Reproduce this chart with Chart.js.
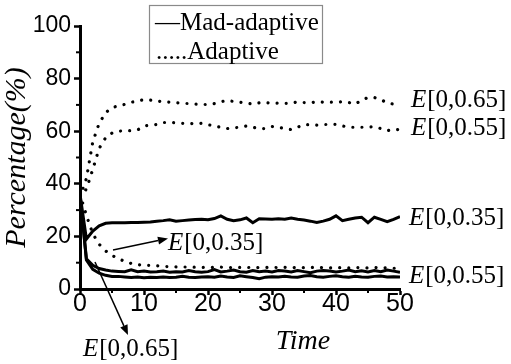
<!DOCTYPE html>
<html><head><meta charset="utf-8">
<script src="https://cdn.jsdelivr.net/npm/chart.js@4"></script>
<style>html,body{margin:0;padding:0;background:#fff}#wrap{width:511px;height:364px}</style>
</head><body><div id="wrap"><canvas id="c" width="511" height="364"></canvas></div>
<script>
const times=[0,1,2,3,4,5,6,7,8,9,10,11,12,13,14,15,16,17,18,19,20,21,22,23,24,25,26,27,28,29,30,31,32,33,34,35,36,37,38,39,40,41,42,43,44,45,46,47,48,49,50];
// Mad-adaptive (solid)
const mad35=[36,19,22,24,25,25.2,25.2,25.2,25.3,25.3,25.4,25.5,25.8,26,26.3,25.8,26,26.2,26.4,26.5,26.3,26.8,27.8,26.5,26,26.3,27,25.2,26.7,26.6,26.5,26.7,26.5,27,26.5,26.2,25.8,25.3,25.8,26.5,27.8,26,26.5,27,27.3,25.2,27.3,26.5,25.6,26.5,27.5];
const mad55=[36,11.5,9,7.8,7.2,6.8,6.7,6.6,7.3,6.6,6.8,6.5,6.6,6.8,6.4,6.6,6.5,7,6.6,6.4,6.6,7.4,6.5,6.8,7.2,6.6,6.4,7,6.6,6.8,6.5,7,6.8,6.5,7,6.6,6.2,6.8,7,6.8,6.5,6.8,7.2,6.6,6.9,6.5,7,6.6,7.2,6.8,6.4];
const mad65=[36,11,7.5,6,5.2,4.8,4.8,4.6,4.4,4.6,4.3,4.5,4.4,4.6,4.4,4.5,4.8,4.5,4.4,4.6,4.7,4.5,4.9,4.6,4.4,5.0,4.7,4.4,3.9,4.5,4.7,4.6,4.8,4.6,4.5,4.9,5.1,4.7,4.5,4.8,5.0,4.7,4.5,4.8,4.6,4.5,4.8,4.9,4.6,4.7,4.6];
// Adaptive (dotted)
const ad35=[36,28,21,17,14.5,12.8,11.5,10.5,9.7,9.2,9,9,8.8,8.6,8.5,8.4,8.4,8.3,8.3,8.2,8.3,8.2,8.3,8.1,8.2,8.2,8.1,8.3,8.1,8.2,8.3,8.1,8.2,8,8.2,8.1,8.2,8.3,8.1,8,8.2,8.1,8,8.2,8.1,8,8.2,7.9,8.1,7.9,7.8];
const ad55=[35,38,45.5,53.5,57.5,59.3,60,60.2,60.2,60.5,62,62.3,62.5,63.3,63.3,63.2,63,63,62.8,63,62.5,62,61.5,61,61.3,61.5,62,61.5,61,61,61.8,61.5,61,60.6,61.5,62.5,62.5,62.3,62.5,62.6,62.6,62,61.5,61.5,61.5,61.6,61.7,61,60.2,60.7,60.5];
const ad65=[35,42,56,63,67,69,69.6,70.2,71,71.5,72,71.8,71.5,71.2,71,70.8,70.6,70.5,70.3,70.2,70.1,70.5,71.2,71.7,71.3,71,70.7,70.3,70.8,70.9,70.6,70.7,70.6,70.6,71.2,70.9,70.8,71.2,71,71,71.1,71.2,70.9,70.3,71.8,72.8,72.8,72,70.8,70.3,70.8];
const xTicks=[0,10,20,30,40,50];
const yTicks=[0,20,40,60,80,100];
const xMinor=[5,15,25,35,45];
const yMinor=[10,30,50,70,90];
const legendItems=['\u2014Mad-adaptive','.....Adaptive'];

const SERIF='"Liberation Serif", "Times New Roman", serif';
const SANS='"Liberation Sans", Arial, sans-serif';
function pts(arr){return times.map((t,i)=>({x:t,y:arr[i]}));}
function solid(arr){return {data:pts(arr),borderColor:'#000',borderWidth:3,pointRadius:0,tension:0,fill:false};}
function dotted(arr){return {data:pts(arr),borderColor:'#000',borderWidth:3.2,borderDash:[0.01,9.1],borderCapStyle:'round',pointRadius:0,tension:0,fill:false};}

function drawLabel(ctx,x,y,rest,size){
  ctx.save();
  ctx.fillStyle='#000';ctx.textBaseline='alphabetic';ctx.textAlign='left';
  ctx.font='italic '+size+'px '+SERIF;
  ctx.fillText('E',x,y);
  const w=ctx.measureText('E').width;
  ctx.font=size+'px '+SERIF;
  ctx.fillText(rest,x+w+1,y);
  ctx.restore();
}
function arrow(ctx,x1,y1,x2,y2){
  ctx.save();
  ctx.strokeStyle='#000';ctx.fillStyle='#000';ctx.lineWidth=1.5;
  const a=Math.atan2(y2-y1,x2-x1),L=10,W=4;
  const bx=x2-L*Math.cos(a),by=y2-L*Math.sin(a);
  ctx.beginPath();ctx.moveTo(x1,y1);ctx.lineTo(bx,by);ctx.stroke();
  ctx.beginPath();ctx.moveTo(x2,y2);
  ctx.lineTo(bx+W*Math.sin(a),by-W*Math.cos(a));
  ctx.lineTo(bx-W*Math.sin(a),by+W*Math.cos(a));
  ctx.closePath();ctx.fill();
  ctx.restore();
}

const overlay={id:'overlay',afterDraw(chart){
  const ctx=chart.ctx,xs=chart.scales.x,ys=chart.scales.y;
  const x0=xs.getPixelForValue(0),y0=ys.getPixelForValue(0);
  ctx.save();
  ctx.strokeStyle='#000';ctx.lineWidth=2;
  yMinor.forEach(v=>{const p=ys.getPixelForValue(v);ctx.beginPath();ctx.moveTo(x0-4,p);ctx.lineTo(x0,p);ctx.stroke();});
  xMinor.forEach(v=>{const p=xs.getPixelForValue(v);ctx.beginPath();ctx.moveTo(p,y0);ctx.lineTo(p,y0+4);ctx.stroke();});
  // legend box
  ctx.strokeStyle='#8a8a8a';ctx.lineWidth=1.2;
  ctx.strokeRect(149.5,5.5,173,58);
  ctx.fillStyle='#000';ctx.font='25px '+SERIF;ctx.textBaseline='alphabetic';ctx.textAlign='left';
  ctx.fillText(legendItems[0],155,30);
  ctx.fillText(legendItems[1],156,59);
  // x title
  ctx.font='italic 28px '+SERIF;ctx.textAlign='center';
  ctx.fillText('Time',303,349);
  ctx.restore();
  const xr=xs.getPixelForValue(50)+11;
  drawLabel(ctx,xr,107,'[0,0.65]',25);
  drawLabel(ctx,xr,135,'[0,0.55]',25);
  drawLabel(ctx,xr-2,225,'[0,0.35]',25);
  drawLabel(ctx,xr-2,283,'[0,0.55]',25);
  drawLabel(ctx,168,250,'[0,0.35]',25);
  drawLabel(ctx,83,356,'[0,0.65]',25);
  arrow(ctx,113,250,168,238.5);
  arrow(ctx,95,262,128,335);
}};

new Chart(document.getElementById('c'),{
  type:'line',
  data:{datasets:[solid(mad35),solid(mad55),solid(mad65),dotted(ad35),dotted(ad55),dotted(ad65)]},
  options:{
    responsive:false,animation:false,devicePixelRatio:1,
    layout:{padding:{left:0,top:26,right:111,bottom:0}},
    plugins:{legend:{display:false},tooltip:{enabled:false}},
    scales:{
      x:{type:'linear',min:0,max:50,
        afterBuildTicks:s=>{s.ticks=xTicks.map(v=>({value:v}));},
        afterFit:s=>{s.height=75;},
        border:{display:true,width:3,color:'#000'},
        grid:{drawOnChartArea:false,drawTicks:true,tickLength:6,tickWidth:2.5,tickColor:'#000'},
        ticks:{color:'#000',padding:-3,maxRotation:0,font:{family:SANS,size:25,lineHeight:1}}
      },
      y:{type:'linear',min:0,max:100,
        afterBuildTicks:s=>{s.ticks=yTicks.map(v=>({value:v}));},
        afterFit:s=>{s.width=80;},
        border:{display:true,width:3,color:'#000'},
        grid:{drawOnChartArea:false,drawTicks:true,tickLength:6,tickWidth:2.5,tickColor:'#000'},
        ticks:{color:'#000',padding:3,font:{family:SANS,size:23}},
        title:{display:true,text:'Percentage(%)',color:'#000',padding:{top:2,bottom:0},font:{family:SERIF,size:30,style:'italic',lineHeight:1}}
      }
    }
  },
  plugins:[overlay]
});
</script>
</body></html>
